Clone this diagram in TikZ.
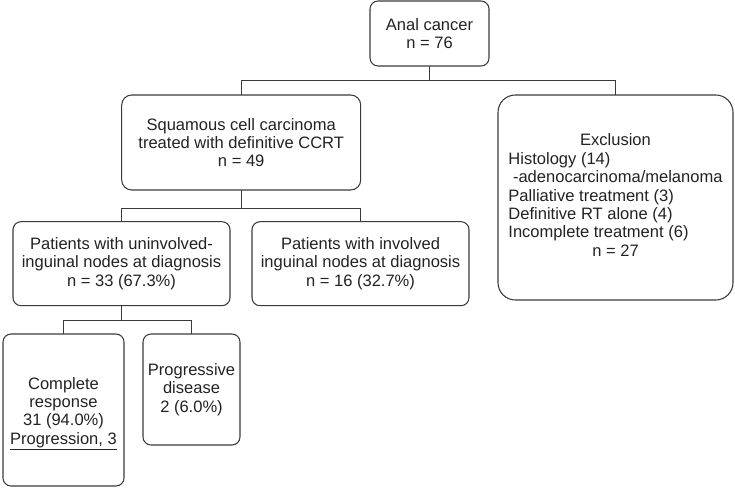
\documentclass[tikz,border=0pt]{standalone}
\usepackage{fontspec}
\setmainfont{Liberation Sans}
\definecolor{linec}{HTML}{3A3A3A}
\definecolor{textc}{HTML}{222222}
\begin{document}
\begin{tikzpicture}[x=0.75pt,y=-0.75pt,
  box/.style={draw=linec, line width=0.8pt, rounded corners=6pt, inner sep=0pt, outer sep=0pt,
    align=center, text=textc, font=\fontsize{12.4pt}{13.8pt}\selectfont},
  conn/.style={draw=linec, line width=0.8pt}]
\useasboundingbox (0,0) rectangle (735,489);
\node[box, minimum width=89.25pt, minimum height=48.75pt, font=\fontsize{12.4pt}{13.3pt}\selectfont] (anal) at (429.5,33.5) {Anal cancer\\n = 76};
\node[box, rounded corners=7.5pt, minimum width=179.25pt, minimum height=71.25pt] (scc) at (241.2,142.5)
  {Squamous cell carcinoma\\treated with definitive CCRT\\n = 49};
\node[box, rounded corners=13pt, minimum width=176.25pt, minimum height=153.75pt] (excl) at (615.5,197.5)
  {\begin{tabular}{@{}l@{}}\multicolumn{1}{@{}c@{}}{Exclusion}\\ Histology (14)\\ \ -adenocarcinoma/melanoma\\ Palliative treatment (3)\\ Definitive RT alone (4)\\ Incomplete treatment (6)\\ \multicolumn{1}{@{}c@{}}{n = 27}\end{tabular}};
\node[box, minimum width=162.75pt, minimum height=63pt] (unin) at (121.5,263.7)
  {Patients with uninvolved-\\inguinal nodes at diagnosis\\n = 33 (67.3\%)};
\node[box, minimum width=162.75pt, minimum height=63pt] (inv) at (360.5,263.7)
  {Patients with involved\\inguinal nodes at diagnosis\\n = 16 (32.7\%)};
\node[box, minimum width=90.75pt, minimum height=114pt] (comp) at (63.5,410)
  {\raisebox{-2.5pt}[\height][\depth]{\begin{tabular}{@{}c@{}}Complete\\response\\31 (94.0\%)\\\underline{Progression, 3}\end{tabular}}};
\node[box, minimum width=72.75pt, minimum height=83.25pt] (prog) at (191.5,389.5)
  {Progressive\\disease\\2 (6.0\%)};
% connectors
\coordinate (j1) at (429.5,80.5);
\coordinate (j2) at (241.2,208.5);
\coordinate (j3) at (121.5,320.5);
\draw[conn] (anal.south) -- (j1);
\draw[conn] (j1) -| (scc.north);
\draw[conn] (j1) -| (excl.north);
\draw[conn] (scc.south) -- (j2);
\draw[conn] (j2) -| (unin.north);
\draw[conn] (j2) -| (inv.north);
\draw[conn] (unin.south) -- (j3);
\draw[conn] (j3) -| (comp.north);
\draw[conn] (j3) -| (prog.north);
\end{tikzpicture}
\end{document}
